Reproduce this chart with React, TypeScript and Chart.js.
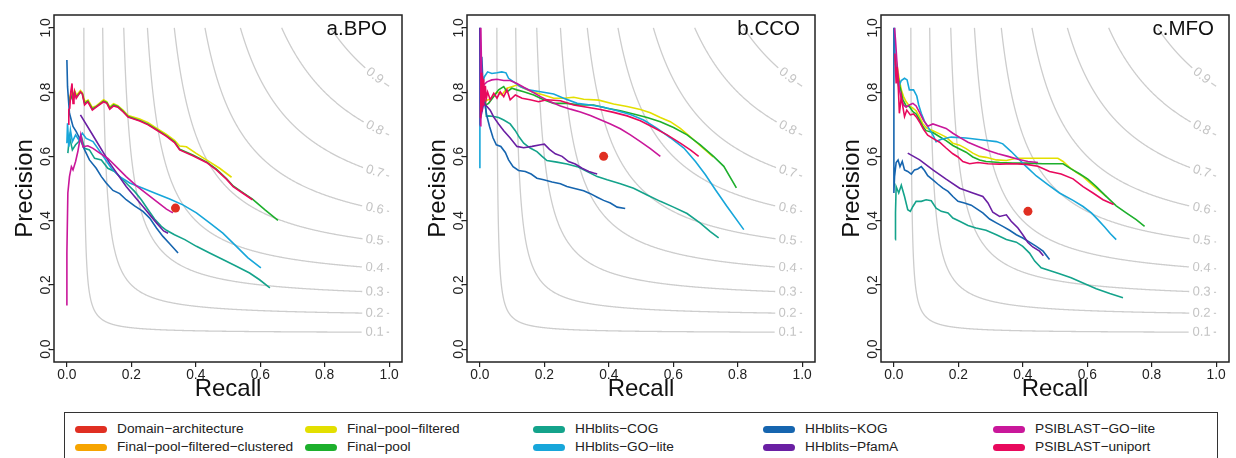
import { useEffect, useRef } from 'react';
import { Chart, registerables } from 'chart.js';

Chart.register(...registerables);

const FONT = '"Liberation Sans", Arial, Helvetica, sans-serif';

// ---------- axis / reference values ----------
const AXIS_TICKS = [0, 0.2, 0.4, 0.6, 0.8, 1.0];
const ISO_F_LEVELS = [0.1, 0.2, 0.3, 0.4, 0.5, 0.6, 0.7, 0.8, 0.9];

// ---------- series names & colours ----------
const SERIES_NAMES = [
  'Domain−architecture',
  'Final−pool−filtered−clustered',
  'Final−pool−filtered',
  'Final−pool',
  'HHblits−COG',
  'HHblits−GO−lite',
  'HHblits−KOG',
  'HHblits−PfamA',
  'PSIBLAST−GO−lite',
  'PSIBLAST−uniport',
];
const SERIES_COLORS = [
  '#E02F22',
  '#F6A400',
  '#E3DF00',
  '#1DAF2C',
  '#14A38B',
  '#17A6DA',
  '#1665AF',
  '#6A1FA3',
  '#C9179A',
  '#E8095D',
];

// ---------- a.BPO : [recall, precision] ----------
const BPO_DA = [[0.337, 0.439]];
const BPO_FPF = [[0.006,0.77],[0.013,0.80],[0.018,0.78],[0.024,0.805],[0.030,0.79],[0.042,0.805],[0.048,0.798],[0.056,0.77],[0.066,0.775],[0.079,0.752],[0.092,0.758],[0.114,0.776],[0.124,0.770],[0.133,0.754],[0.145,0.764],[0.158,0.758],[0.174,0.744],[0.190,0.727],[0.226,0.716],[0.252,0.705],[0.278,0.688],[0.309,0.668],[0.334,0.650],[0.350,0.632],[0.371,0.630],[0.400,0.610],[0.433,0.589],[0.474,0.563],[0.511,0.535]];
const BPO_FP = [[0.006,0.76],[0.012,0.79],[0.016,0.78],[0.024,0.80],[0.029,0.785],[0.042,0.80],[0.048,0.795],[0.055,0.765],[0.065,0.772],[0.079,0.748],[0.091,0.755],[0.114,0.772],[0.124,0.767],[0.133,0.750],[0.145,0.760],[0.158,0.755],[0.174,0.741],[0.190,0.724],[0.226,0.712],[0.252,0.700],[0.278,0.684],[0.309,0.664],[0.334,0.645],[0.350,0.622],[0.391,0.604],[0.433,0.583],[0.464,0.560],[0.495,0.531],[0.516,0.508],[0.545,0.488],[0.576,0.467],[0.614,0.434],[0.655,0.401]];
const BPO_COG = [[0.003,0.610],[0.008,0.662],[0.017,0.620],[0.027,0.636],[0.037,0.646],[0.045,0.662],[0.055,0.625],[0.070,0.620],[0.086,0.594],[0.107,0.589],[0.127,0.563],[0.148,0.553],[0.169,0.532],[0.190,0.511],[0.210,0.491],[0.231,0.465],[0.252,0.434],[0.272,0.405],[0.293,0.382],[0.309,0.370],[0.334,0.356],[0.366,0.341],[0.402,0.320],[0.443,0.299],[0.484,0.279],[0.526,0.258],[0.567,0.237],[0.598,0.216],[0.630,0.191]];
const BPO_GOL = [[0.000,0.641],[0.002,0.703],[0.006,0.630],[0.011,0.682],[0.017,0.646],[0.027,0.667],[0.037,0.651],[0.048,0.672],[0.060,0.656],[0.081,0.646],[0.096,0.625],[0.117,0.594],[0.138,0.563],[0.164,0.537],[0.195,0.517],[0.236,0.501],[0.278,0.484],[0.319,0.467],[0.360,0.449],[0.402,0.424],[0.443,0.393],[0.484,0.361],[0.526,0.320],[0.562,0.284],[0.602,0.253]];
const BPO_KOG = [[0.000,0.900],[0.002,0.817],[0.008,0.734],[0.019,0.693],[0.029,0.677],[0.042,0.651],[0.055,0.620],[0.070,0.589],[0.091,0.563],[0.107,0.537],[0.122,0.517],[0.143,0.494],[0.164,0.484],[0.184,0.465],[0.210,0.446],[0.236,0.429],[0.257,0.408],[0.278,0.377],[0.298,0.351],[0.319,0.328],[0.345,0.299]];
const BPO_PFA = [[0.042,0.729],[0.081,0.665],[0.133,0.579],[0.184,0.506],[0.236,0.444],[0.278,0.393],[0.300,0.368],[0.314,0.361]];
const BPO_PGL = [[0.000,0.136],[0.000,0.299],[0.003,0.486],[0.008,0.537],[0.014,0.568],[0.019,0.558],[0.027,0.584],[0.034,0.615],[0.043,0.667],[0.050,0.630],[0.065,0.633],[0.081,0.625],[0.102,0.610],[0.127,0.594],[0.153,0.568],[0.184,0.537],[0.216,0.508],[0.247,0.484],[0.278,0.460],[0.309,0.436],[0.329,0.424]];
const BPO_PU = [[0.004,0.700],[0.006,0.745],[0.009,0.750],[0.012,0.800],[0.016,0.827],[0.019,0.765],[0.022,0.775],[0.024,0.800],[0.029,0.781],[0.035,0.790],[0.042,0.801],[0.048,0.794],[0.055,0.760],[0.065,0.770],[0.079,0.744],[0.091,0.753],[0.114,0.770],[0.124,0.765],[0.133,0.747],[0.145,0.757],[0.158,0.753],[0.174,0.739],[0.190,0.722],[0.226,0.710],[0.252,0.698],[0.278,0.682],[0.309,0.662],[0.334,0.643],[0.350,0.620],[0.391,0.602],[0.433,0.581],[0.464,0.558],[0.495,0.529],[0.516,0.506],[0.545,0.486],[0.576,0.465]];

// ---------- b.CCO ----------
const CCO_DA = [[0.384, 0.600]];
const CCO_FPF = [[0.005,0.760],[0.010,0.800],[0.015,0.770],[0.022,0.775],[0.037,0.781],[0.053,0.801],[0.068,0.791],[0.084,0.812],[0.099,0.817],[0.115,0.822],[0.136,0.812],[0.162,0.801],[0.198,0.791],[0.229,0.781],[0.260,0.781],[0.291,0.784],[0.322,0.778],[0.369,0.775],[0.415,0.763],[0.457,0.755],[0.498,0.746],[0.529,0.736],[0.560,0.721],[0.591,0.708],[0.622,0.687],[0.653,0.661],[0.684,0.633],[0.724,0.598]];
const CCO_FP = [[0.005,0.740],[0.012,0.790],[0.018,0.760],[0.027,0.765],[0.043,0.786],[0.058,0.807],[0.074,0.817],[0.084,0.801],[0.099,0.812],[0.115,0.807],[0.136,0.801],[0.167,0.791],[0.198,0.776],[0.229,0.765],[0.270,0.765],[0.312,0.760],[0.353,0.760],[0.395,0.750],[0.436,0.742],[0.477,0.732],[0.519,0.721],[0.560,0.708],[0.601,0.690],[0.643,0.667],[0.684,0.636],[0.725,0.600],[0.757,0.569],[0.796,0.502]];
const CCO_COG = [[0.017,0.765],[0.020,0.725],[0.027,0.726],[0.043,0.724],[0.058,0.721],[0.074,0.713],[0.094,0.701],[0.110,0.680],[0.122,0.660],[0.136,0.641],[0.156,0.626],[0.177,0.615],[0.193,0.600],[0.208,0.587],[0.239,0.582],[0.270,0.576],[0.302,0.568],[0.333,0.553],[0.364,0.537],[0.395,0.527],[0.436,0.515],[0.477,0.501],[0.519,0.480],[0.560,0.460],[0.601,0.442],[0.643,0.422],[0.684,0.392],[0.715,0.366],[0.741,0.346]];
const CCO_GOL = [[0.000,0.563],[0.000,1.000],[0.005,0.817],[0.014,0.848],[0.024,0.863],[0.037,0.858],[0.053,0.860],[0.068,0.863],[0.081,0.860],[0.089,0.843],[0.105,0.832],[0.125,0.817],[0.151,0.807],[0.188,0.801],[0.229,0.794],[0.260,0.781],[0.302,0.765],[0.343,0.760],[0.384,0.753],[0.426,0.742],[0.467,0.730],[0.508,0.713],[0.550,0.687],[0.591,0.658],[0.633,0.626],[0.669,0.584],[0.700,0.543],[0.731,0.496],[0.767,0.444],[0.819,0.372]];
const CCO_KOG = [[0.006,0.910],[0.009,0.838],[0.015,0.765],[0.022,0.724],[0.030,0.693],[0.041,0.657],[0.051,0.636],[0.065,0.631],[0.079,0.612],[0.089,0.589],[0.103,0.568],[0.120,0.556],[0.141,0.553],[0.159,0.545],[0.177,0.532],[0.198,0.527],[0.224,0.520],[0.250,0.515],[0.270,0.506],[0.291,0.501],[0.322,0.493],[0.343,0.484],[0.364,0.473],[0.384,0.463],[0.405,0.455],[0.426,0.442],[0.451,0.438]];
const CCO_PFA = [[0.000,1.000],[0.001,0.714],[0.012,0.765],[0.022,0.755],[0.032,0.744],[0.043,0.722],[0.058,0.701],[0.074,0.680],[0.094,0.657],[0.115,0.631],[0.136,0.627],[0.162,0.631],[0.188,0.636],[0.200,0.638],[0.216,0.622],[0.234,0.608],[0.255,0.600],[0.275,0.584],[0.296,0.576],[0.317,0.563],[0.338,0.553],[0.353,0.548],[0.364,0.545]];
const CCO_PGL = [[0.003,0.693],[0.003,1.000],[0.007,0.755],[0.011,0.822],[0.022,0.832],[0.037,0.838],[0.053,0.840],[0.074,0.836],[0.094,0.836],[0.115,0.827],[0.136,0.815],[0.162,0.801],[0.188,0.786],[0.219,0.770],[0.250,0.757],[0.281,0.747],[0.312,0.738],[0.343,0.727],[0.374,0.714],[0.405,0.701],[0.436,0.686],[0.467,0.667],[0.498,0.646],[0.529,0.624],[0.560,0.600]];
const CCO_PU = [[0.002,0.720],[0.004,0.860],[0.006,0.740],[0.008,0.850],[0.010,0.760],[0.012,0.840],[0.014,0.770],[0.017,0.820],[0.020,0.780],[0.024,0.800],[0.032,0.776],[0.043,0.796],[0.053,0.781],[0.063,0.801],[0.074,0.786],[0.084,0.807],[0.094,0.776],[0.110,0.791],[0.131,0.781],[0.156,0.776],[0.182,0.770],[0.208,0.776],[0.250,0.773],[0.291,0.760],[0.333,0.753],[0.374,0.746],[0.415,0.737],[0.457,0.726],[0.498,0.711],[0.539,0.690],[0.581,0.667],[0.622,0.641],[0.653,0.620],[0.679,0.600]];

// ---------- c.MFO ----------
const MFO_DA = [[0.416, 0.429]];
const MFO_FPF = [[0.005,0.910],[0.012,0.869],[0.017,0.838],[0.023,0.807],[0.030,0.786],[0.038,0.770],[0.048,0.757],[0.059,0.750],[0.069,0.742],[0.080,0.722],[0.090,0.701],[0.102,0.688],[0.121,0.680],[0.142,0.670],[0.162,0.660],[0.183,0.641],[0.204,0.635],[0.224,0.624],[0.245,0.610],[0.266,0.600],[0.286,0.597],[0.318,0.589],[0.349,0.587],[0.380,0.594],[0.421,0.594],[0.462,0.594],[0.509,0.594],[0.525,0.584],[0.545,0.566],[0.566,0.550],[0.587,0.537],[0.607,0.519],[0.628,0.501],[0.649,0.484],[0.660,0.474]];
const MFO_FP = [[0.005,0.889],[0.012,0.853],[0.019,0.817],[0.028,0.776],[0.038,0.757],[0.048,0.755],[0.059,0.739],[0.069,0.732],[0.080,0.713],[0.090,0.693],[0.100,0.680],[0.121,0.674],[0.142,0.661],[0.162,0.649],[0.183,0.634],[0.204,0.623],[0.224,0.613],[0.245,0.598],[0.266,0.589],[0.286,0.584],[0.328,0.581],[0.369,0.579],[0.411,0.579],[0.462,0.577],[0.525,0.577],[0.550,0.561],[0.576,0.546],[0.602,0.529],[0.628,0.506],[0.654,0.480],[0.690,0.446],[0.721,0.424],[0.752,0.403],[0.778,0.382]];
const MFO_COG = [[0.004,0.341],[0.005,0.424],[0.007,0.506],[0.015,0.486],[0.023,0.510],[0.033,0.475],[0.043,0.434],[0.051,0.429],[0.059,0.444],[0.069,0.460],[0.085,0.460],[0.100,0.465],[0.116,0.462],[0.131,0.439],[0.147,0.429],[0.168,0.424],[0.183,0.408],[0.204,0.398],[0.230,0.385],[0.255,0.377],[0.286,0.370],[0.318,0.356],[0.349,0.341],[0.380,0.333],[0.400,0.320],[0.421,0.299],[0.437,0.274],[0.457,0.253],[0.483,0.245],[0.514,0.235],[0.550,0.222],[0.587,0.206],[0.628,0.188],[0.670,0.173],[0.711,0.160]];
const MFO_GOL = [[0.002,1.000],[0.004,0.900],[0.009,0.848],[0.015,0.817],[0.023,0.836],[0.033,0.843],[0.041,0.838],[0.048,0.807],[0.061,0.807],[0.071,0.788],[0.077,0.760],[0.085,0.734],[0.095,0.709],[0.108,0.688],[0.121,0.667],[0.131,0.646],[0.147,0.653],[0.178,0.660],[0.224,0.657],[0.276,0.651],[0.318,0.646],[0.338,0.639],[0.364,0.615],[0.385,0.594],[0.411,0.568],[0.442,0.539],[0.478,0.512],[0.514,0.486],[0.556,0.463],[0.587,0.444],[0.613,0.424],[0.633,0.403],[0.654,0.380],[0.672,0.359],[0.690,0.341]];
const MFO_KOG = [[0.000,1.000],[0.000,0.486],[0.002,0.537],[0.007,0.581],[0.013,0.589],[0.019,0.568],[0.026,0.584],[0.033,0.558],[0.043,0.553],[0.054,0.545],[0.064,0.558],[0.074,0.561],[0.085,0.568],[0.095,0.556],[0.105,0.540],[0.121,0.527],[0.136,0.514],[0.152,0.501],[0.168,0.491],[0.183,0.475],[0.199,0.460],[0.219,0.455],[0.240,0.448],[0.255,0.438],[0.276,0.424],[0.297,0.405],[0.318,0.393],[0.338,0.382],[0.359,0.370],[0.380,0.356],[0.400,0.346],[0.421,0.333],[0.442,0.320],[0.463,0.305],[0.483,0.279]];
const MFO_PFA = [[0.043,0.610],[0.080,0.589],[0.121,0.558],[0.162,0.529],[0.204,0.501],[0.245,0.486],[0.276,0.475],[0.292,0.455],[0.307,0.426],[0.328,0.413],[0.349,0.418],[0.364,0.398],[0.385,0.377],[0.400,0.356],[0.416,0.332],[0.431,0.318],[0.452,0.305],[0.464,0.291]];
const MFO_PGL = [[0.002,1.000],[0.005,0.962],[0.009,0.900],[0.013,0.848],[0.017,0.807],[0.023,0.781],[0.030,0.760],[0.038,0.753],[0.048,0.760],[0.059,0.765],[0.069,0.757],[0.080,0.736],[0.092,0.712],[0.105,0.694],[0.121,0.701],[0.142,0.694],[0.162,0.687],[0.183,0.672],[0.204,0.659],[0.230,0.644],[0.261,0.631],[0.292,0.618],[0.323,0.608],[0.354,0.600],[0.385,0.591],[0.416,0.584],[0.447,0.581]];
const MFO_PU = [[0.003,0.920],[0.007,0.827],[0.010,0.879],[0.014,0.807],[0.017,0.734],[0.023,0.786],[0.028,0.753],[0.033,0.724],[0.040,0.744],[0.051,0.729],[0.061,0.732],[0.071,0.721],[0.082,0.703],[0.092,0.684],[0.105,0.666],[0.121,0.656],[0.142,0.644],[0.162,0.626],[0.183,0.608],[0.199,0.598],[0.214,0.584],[0.235,0.577],[0.261,0.581],[0.292,0.577],[0.328,0.576],[0.369,0.577],[0.411,0.575],[0.447,0.569],[0.483,0.553],[0.519,0.545],[0.556,0.530],[0.587,0.506],[0.618,0.486],[0.649,0.465],[0.682,0.450]];

// ---------- panels ----------
type Panel = { title: string; left: number; point: number[][]; lines: (number[][] | null)[] };
// lines follow SERIES_NAMES order (index 1..9); null = not drawn
const PANELS: Panel[] = [
  { title: 'a.BPO', left: 0, point: BPO_DA, lines: [null, BPO_FPF, BPO_FP, BPO_COG, BPO_GOL, BPO_KOG, BPO_PFA, BPO_PGL, BPO_PU] },
  { title: 'b.CCO', left: 413, point: CCO_DA, lines: [null, CCO_FPF, CCO_FP, CCO_COG, CCO_GOL, CCO_KOG, CCO_PFA, CCO_PGL, CCO_PU] },
  { title: 'c.MFO', left: 827, point: MFO_DA, lines: [null, MFO_FPF, MFO_FP, MFO_COG, MFO_GOL, MFO_KOG, MFO_PFA, MFO_PGL, MFO_PU] },
];

const CANVAS_W = 409;
const CANVAS_H = 404;

const isoPlugin = {
  id: 'isoAndFrame',
  beforeDatasetsDraw(chart: any) {
    const { ctx, chartArea, scales } = chart;
    const xs = scales.x;
    const ys = scales.y;
    ctx.save();
    ctx.beginPath();
    ctx.rect(chartArea.left, chartArea.top, chartArea.right - chartArea.left, chartArea.bottom - chartArea.top);
    ctx.clip();
    ctx.font = `13px ${FONT}`;
    const dxu = xs.getPixelForValue(1) - xs.getPixelForValue(0);
    const dyu = ys.getPixelForValue(1) - ys.getPixelForValue(0);
    ISO_F_LEVELS.forEach((f) => {
      const label = f.toFixed(1);
      const tw = ctx.measureText(label).width;
      const rc = 0.955;
      const pc = (f * rc) / (2 * rc - f);
      const cx = xs.getPixelForValue(rc);
      const cy = ys.getPixelForValue(pc);
      const slope = -(f * f) / Math.pow(2 * rc - f, 2);
      const ang = Math.atan2(slope * dyu, dxu);
      const gap = tw / 2 + 3;
      const r0 = f / (2 - f);
      ctx.strokeStyle = '#cdcdcd';
      ctx.lineWidth = 1.3;
      ctx.beginPath();
      let pen = false;
      const N = 500;
      for (let i = 0; i <= N; i++) {
        const t = i / N;
        const r = r0 + (1 - r0) * t * t;
        const p = (f * r) / (2 * r - f);
        const px = xs.getPixelForValue(r);
        const py = ys.getPixelForValue(Math.min(p, 1));
        if (Math.hypot(px - cx, py - cy) < gap) { pen = false; continue; }
        if (!pen) { ctx.moveTo(px, py); pen = true; } else ctx.lineTo(px, py);
      }
      ctx.stroke();
      ctx.save();
      ctx.translate(cx, cy);
      ctx.rotate(ang);
      ctx.fillStyle = '#c4c4c4';
      ctx.textAlign = 'center';
      ctx.textBaseline = 'middle';
      ctx.fillText(label, 0, 0);
      ctx.restore();
    });
    ctx.restore();
  },
  afterDraw(chart: any, _args: any, opts: any) {
    const { ctx, chartArea } = chart;
    ctx.save();
    ctx.strokeStyle = '#222';
    ctx.lineWidth = 1.5;
    ctx.strokeRect(chartArea.left, chartArea.top, chartArea.right - chartArea.left, chartArea.bottom - chartArea.top);
    ctx.font = `20.5px ${FONT}`;
    ctx.fillStyle = '#111';
    ctx.textAlign = 'right';
    ctx.textBaseline = 'alphabetic';
    ctx.fillText(opts.title || '', chartArea.right - 15, chartArea.top + 20);
    ctx.restore();
  },
};

function axisOptions(isX: boolean) {
  return {
    type: 'linear',
    min: -0.04,
    max: 1.04,
    afterBuildTicks: (s: any) => { s.ticks = AXIS_TICKS.map((v) => ({ value: v })); },
    afterFit: (s: any) => { if (isX) s.height = 42; else s.width = 54; },
    ticks: {
      autoSkip: false,
      minRotation: isX ? 0 : 90,
      maxRotation: isX ? 0 : 90,
      crossAlign: isX ? 'near' : 'center',
      padding: isX ? -0.5 : -7,
      color: '#222',
      font: { family: FONT, size: 13.8 },
      callback: (v: any) => Number(v).toFixed(1),
    },
    grid: { display: true, drawOnChartArea: false, drawTicks: true, tickLength: 5, color: '#222', lineWidth: 1.2 },
    border: { display: false },
    title: {
      display: true,
      text: isX ? 'Recall' : 'Precision',
      color: '#111',
      font: { family: FONT, size: 24 },
      padding: isX ? { top: 0, bottom: 0 } : { top: 11, bottom: 0 },
    },
  };
}

function PanelChart({ panel }: { panel: Panel }) {
  const ref = useRef<HTMLCanvasElement | null>(null);
  useEffect(() => {
    if (!ref.current) return;
    const n = SERIES_NAMES.length;
    const datasets: any[] = [];
    panel.lines.forEach((d, k) => {
      const idx = k + 1;
      if (!d) return;
      datasets.push({
        label: SERIES_NAMES[idx],
        data: d.map(([r, p]) => ({ x: r, y: p })),
        showLine: true,
        borderColor: SERIES_COLORS[idx],
        backgroundColor: SERIES_COLORS[idx],
        borderWidth: 1.6,
        pointRadius: 0,
        tension: 0,
        order: n - idx,
      });
    });
    datasets.push({
      label: SERIES_NAMES[0],
      data: panel.point.map(([r, p]) => ({ x: r, y: p })),
      showLine: false,
      pointRadius: 4.5,
      pointBorderWidth: 0,
      backgroundColor: SERIES_COLORS[0],
      borderColor: SERIES_COLORS[0],
      order: -1,
    });
    const chart = new Chart(ref.current, {
      type: 'scatter',
      data: { datasets },
      options: {
        animation: false,
        responsive: false,
        devicePixelRatio: 1,
        events: [],
        layout: { padding: { left: 0, top: 15, right: CANVAS_W - 402, bottom: 0 } },
        scales: { x: axisOptions(true) as any, y: axisOptions(false) as any },
        plugins: {
          legend: { display: false },
          tooltip: { enabled: false },
          isoAndFrame: { title: panel.title },
        } as any,
      },
      plugins: [isoPlugin],
    });
    return () => chart.destroy();
  }, [panel]);
  return (
    <canvas
      ref={ref}
      width={CANVAS_W}
      height={CANVAS_H}
      style={{ position: 'absolute', left: panel.left, top: 0, width: CANVAS_W, height: CANVAS_H }}
    />
  );
}

const LEGEND_COL_X = [75, 305, 533, 763, 993];
const LEGEND_ROW_Y = [429, 447];

export default function App() {
  return (
    <div
      style={{
        position: 'fixed', left: 0, top: 0, width: 1236, height: 458,
        overflow: 'hidden', background: '#fff', fontFamily: FONT,
      }}
    >
      {PANELS.map((p) => <PanelChart key={p.title} panel={p} />)}
      <div
        style={{
          position: 'absolute', left: 64, top: 412, width: 1154, height: 80,
          border: '1.5px solid #333', boxSizing: 'border-box',
        }}
      />
      {SERIES_NAMES.map((name, i) => {
        const col = Math.floor(i / 2);
        const row = i % 2;
        const x = LEGEND_COL_X[col];
        const y = LEGEND_ROW_Y[row];
        return (
          <div key={name}>
            <div
              style={{
                position: 'absolute', left: x, top: y - 3.5, width: 32, height: 7,
                borderRadius: 3.5, background: SERIES_COLORS[i],
              }}
            />
            <div
              style={{
                position: 'absolute', left: x + 42, top: y - 10, height: 20, lineHeight: '20px',
                fontSize: 13.7, color: '#222', whiteSpace: 'nowrap', fontFamily: FONT,
              }}
            >
              {name}
            </div>
          </div>
        );
      })}
    </div>
  );
}
